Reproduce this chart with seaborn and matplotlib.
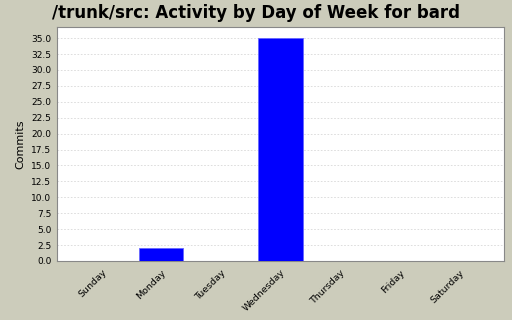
import matplotlib
matplotlib.use("Agg")
import matplotlib.pyplot as plt
import seaborn as sns
import pandas as pd

days = ["Sunday", "Monday", "Tuesday", "Wednesday", "Thursday", "Friday", "Saturday"]
commits = [0, 2, 0, 35, 0, 0, 0]
yticks = [0.0, 2.5, 5.0, 7.5, 10.0, 12.5, 15.0, 17.5, 20.0, 22.5, 25.0, 27.5, 30.0, 32.5, 35.0]

sns.set_theme(style="white")
plt.rcParams['font.family'] = ['DejaVu Sans']

df = pd.DataFrame({"day": days, "commits": commits})

bg = "#ccccbb"
fig = plt.figure(figsize=(5.12, 3.2), dpi=100, facecolor=bg)
ax = fig.add_axes([57/512, 59/320, 447/512, 234/320])
ax.set_facecolor("white")

sns.barplot(data=df, x="day", y="commits", order=days, color="#0000ff",
            saturation=1, width=0.74, edgecolor="#6666ff", linewidth=0.6, ax=ax, zorder=3)

ax.set_xlim(-0.75, 6.75)
ax.set_ylim(0, 36.75)
ax.set_yticks(yticks)
ax.set_yticklabels([f"{v:.1f}" for v in yticks], fontsize=6.5, color="black")
ax.set_xticks(range(len(days)))
ax.set_xticklabels(days, rotation=45, ha="right", rotation_mode="anchor", fontsize=6.8, color="black")
ax.yaxis.grid(True, color="#d8d8d8", linestyle=(0, (2, 2)), linewidth=0.6, zorder=0)
ax.set_axisbelow(True)
ax.tick_params(axis="both", length=2, width=0.6, color="#888888", pad=2)
ax.tick_params(axis="x", pad=3)
for s in ax.spines.values():
    s.set_color("#888888")
    s.set_linewidth(0.8)
ax.set_xlabel("")
ax.set_ylabel("Commits", fontsize=8, color="black")
fig.text(0.5, 1 - 13/320, "/trunk/src: Activity by Day of Week for bard", fontsize=12,
         fontweight="bold", color="black", ha="center", va="center")

fig.savefig("out.png", dpi=100, facecolor=bg)
